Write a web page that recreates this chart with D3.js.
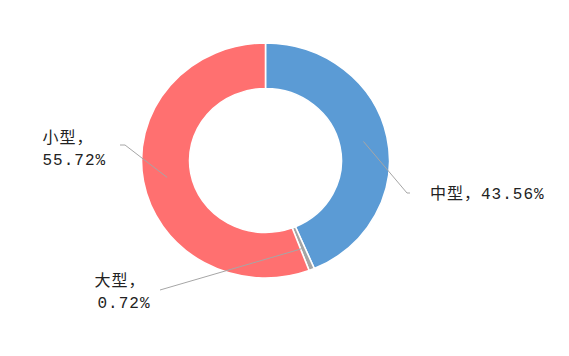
<!DOCTYPE html>
<html>
<head>
<meta charset="utf-8">
<script src="https://cdn.jsdelivr.net/npm/d3@7"></script>
<style>
  body { margin: 0; background: #fff; }
  text { font-family: "Liberation Mono", "Noto Sans CJK SC", monospace; font-size: 16px; fill: #222; letter-spacing: 1px; }
</style>
</head>
<body>
<div id="chart"></div>
<script>
// data
var categories = ["中型", "大型", "小型"];
var shares = [43.56, 0.72, 55.72];
var colors = ["#5b9bd5", "#a5a5a5", "#ff7070"];

var svgWidth = 569, svgHeight = 356;
var cx = 265.5, cy = 160.5;
var outerR = 117.5, innerR = 72, xStretch = 1.055;

// label layout: elbow point (relative to centre), end point, text anchor point
var labelLayout = [
  { elbow: [141.5, 32.5], end: [144.5, 32.5], lines: [[164.5, 38]] },
  { elbow: [-105.5, 129.5], end: [-105.5, 129.5], lines: [[-171, 125], [-168, 147]] },
  { elbow: [-140.5, -15.5], end: [-145.5, -15.5], lines: [[-223, -18], [-223, 4]] }
];

var svg = d3.select("#chart").append("svg")
  .attr("width", svgWidth)
  .attr("height", svgHeight);

var pie = d3.pie().sort(null).value(d => d);
var arcs = pie(shares);

var arc = d3.arc().innerRadius(innerR).outerRadius(outerR);

var ring = svg.append("g")
  .attr("transform", `translate(${cx},${cy}) scale(${xStretch},1)`);

ring.selectAll("path")
  .data(arcs)
  .enter()
  .append("path")
  .attr("d", arc)
  .attr("fill", (d, i) => colors[i])
  .attr("stroke", "#fff")
  .attr("stroke-width", 1.5);

var labels = svg.append("g").attr("transform", `translate(${cx},${cy})`);

arcs.forEach(function(d, i) {
  var c = arc.centroid(d);
  var start = [c[0] * xStretch, c[1]];
  var lay = labelLayout[i];
  labels.append("polyline")
    .attr("points", [start, lay.elbow, lay.end].map(p => p.join(",")).join(" "))
    .attr("fill", "none")
    .attr("stroke", "#a6a6a6")
    .attr("stroke-width", 1);

  var pct = shares[i].toFixed(2) + "%";
  var parts = lay.lines.length === 1 ? [categories[i] + "，" + pct] : [categories[i] + "，", pct];
  parts.forEach(function(t, j) {
    labels.append("text")
      .attr("x", lay.lines[j][0])
      .attr("y", lay.lines[j][1])
      .text(t);
  });
});
</script>
</body>
</html>
